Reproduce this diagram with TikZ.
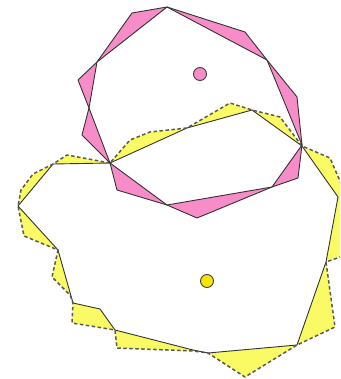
\documentclass[tikz,border=0pt]{standalone}
\begin{document}
\begin{tikzpicture}[x=1pt,y=-1pt,
  edge/.style={draw=black!80, line width=0.9pt, line join=round},
  dashedge/.style={draw=black!65, line width=1.5pt, dash pattern=on 3.5pt off 2.5pt, line join=round},
  pinkfill/.style={fill=pinkc, even odd rule},
  yellowfill/.style={fill=yellowc, even odd rule},
  dot/.style={circle, minimum size=13pt, inner sep=0pt, line width=0.9pt, draw=black!75}]
\definecolor{pinkc}{RGB}{248,140,200}
\definecolor{yellowc}{RGB}{250,250,100}
\definecolor{dotyellow}{RGB}{245,230,0}
\useasboundingbox (0,0) rectangle (340,379);
\clip (0,0) rectangle (340,379);
% yellow shape
\def\ysolid{(110,163) -- (187,128) -- (252,110) -- (302,146) -- (338,197) -- (326,262) -- (297,345) -- (208,353) -- (193,350) -- (115,330) -- (100,309) -- (73,303) -- (58,250) -- (18,206) -- (53,164) -- cycle}
\def\ydash{(110,163) -- (67,155) -- (53,164) -- (33,174) -- (21,190) -- (18,206) -- (24,236) -- (58,250) -- (52,277) -- (70,295) -- (73,303) -- (72,323) -- (115,330) -- (117,348) -- (193,351) -- (208,353) -- (245,377) -- (297,345) -- (335,327) -- (326,262) -- (346,255) -- (346,195) -- (330,158) -- (302,146) -- (280,117) -- (252,110) -- (230,103) -- (187,128) -- (150,132) -- (130,140) -- cycle}
\fill[yellowfill] \ysolid \ydash;
\draw[edge] \ysolid;
\draw[dashedge] \ydash;
% pink shape
\def\pa{(167,7) -- (245,32) -- (267,60) -- (302,145) -- (298,178) -- (272,187) -- (167,205) -- (117,190) -- (110,163) -- (89,108) -- (78,80) -- (97,62) -- cycle}
\def\pb{(167,7) -- (267,60) -- (297,97) -- (302,145) -- (272,187) -- (197,218) -- (167,205) -- (110,163) -- (82,135) -- (89,108) -- (97,62) -- (132,13) -- cycle}
\fill[pinkfill] \pa \pb;
\draw[edge] \pa;
\draw[edge] \pb;
% centre dots
\node[dot, fill=pinkc] (pc) at (200,74) {};
\node[dot, fill=dotyellow] (yc) at (207,281) {};
\end{tikzpicture}
\end{document}
